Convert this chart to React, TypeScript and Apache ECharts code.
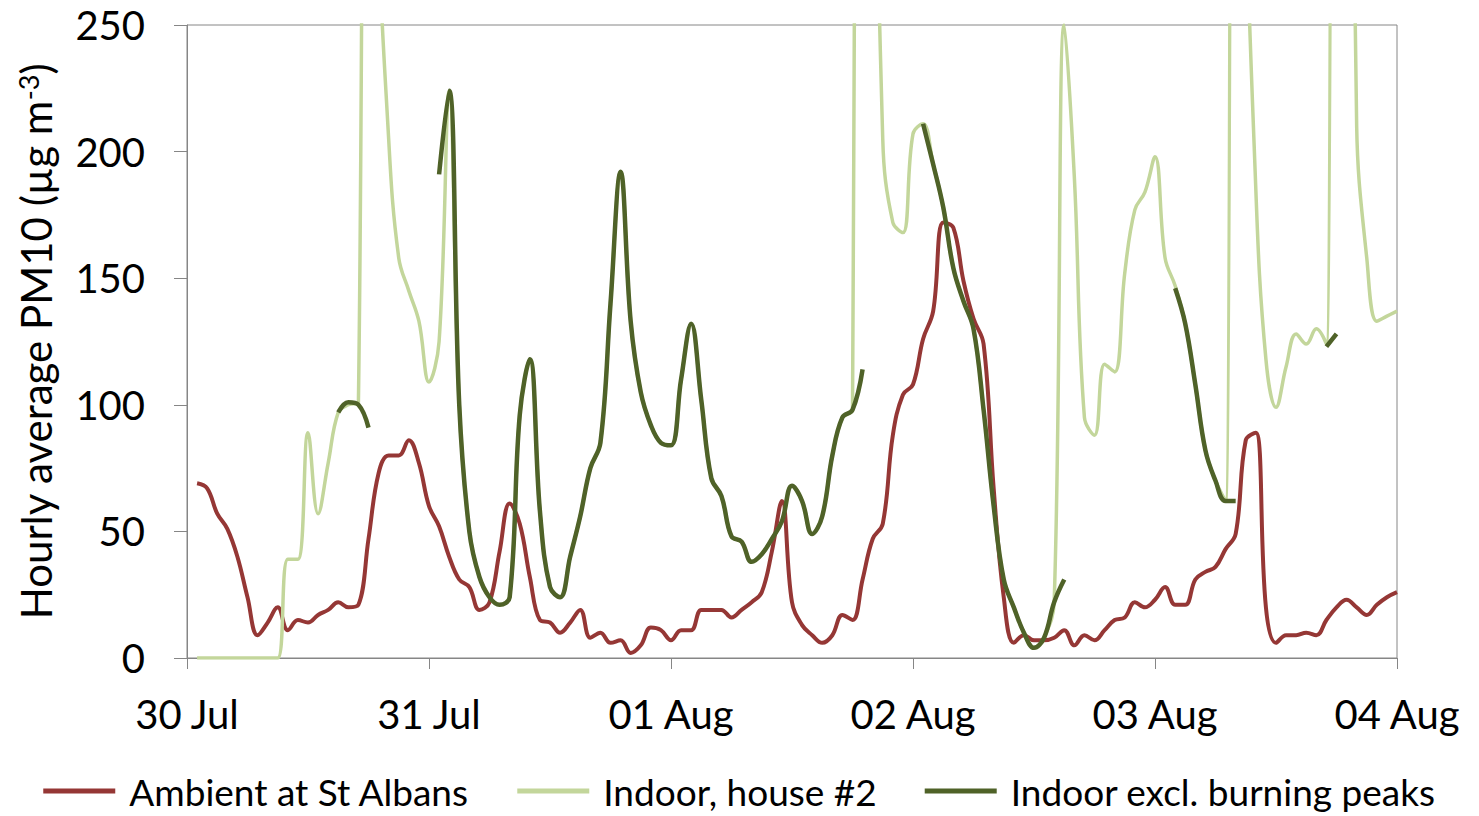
import React, { useEffect, useRef } from "react";
import * as echarts from "echarts";

// Hours after 30 Jul 00:00 (first reading at hour 1)
const dayLabels = ["30 Jul", "31 Jul", "01 Aug", "02 Aug", "03 Aug", "04 Aug"];
const yTicks = [0, 50, 100, 150, 200, 250];

const ambient = [
  69, 67, 57, 51, 40, 24, 9, 14, 20, 11, 15, 14, 17, 19, 22, 20, 21, 47, 73, 80,
  80, 86, 77, 60, 52, 40, 31, 28, 19, 22, 42, 61, 53, 32, 15, 14, 10, 14, 19, 8,
  10, 6, 7, 2, 5, 12, 11, 7, 11, 11, 19, 19, 19, 16, 19, 22, 26, 42, 62, 22,
  13, 9, 6, 9, 17, 15, 31, 47, 53, 88, 104, 108, 126, 137, 172, 170, 149, 134, 124, 67,
  24, 6, 9, 7, 7, 8, 11, 5, 9, 7, 11, 15, 16, 22, 20, 23, 28, 21, 21, 31,
  34, 36, 43, 49, 86, 89, 20, 6, 9, 9, 10, 9, 15, 20, 23, 20, 17, 21, 24, 26,
];

const indoor = [
  0, 0, 0, 0, 0, 0, 0, 0, 0, 39, 39, 89, 57, 77, 97, 100, 101, 1000, 300, 205,
  158, 145, 133, 109, 125, 224, 100, 50, 32, 24, 21, 24, 96, 118, 58, 28, 24, 40, 56, 75,
  85, 140, 192, 133, 105, 92, 85, 84, 110, 132, 102, 71, 64, 48, 46, 38, 41, 47, 54, 68,
  62, 49, 56, 80, 95, 98, 1500, 450, 205, 172, 168, 207, 211, 195, 178, 154, 141, 130, 98, 60,
  31, 20, 10, 4, 8, 22, 250, 190, 95, 88, 116, 113, 152, 177, 184, 198, 158, 147, 132, 108,
  82, 70, 62, 1500, 330, 185, 118, 99, 115, 128, 124, 130, 124, 1500, 600, 210, 158, 133, 135, 137,
];

const N = null;
const indoorExcl = [
  N, N, N, N, N, N, N, N, N, N, N, N, N, N, 97, 101, 100, 91, N, N,
  N, N, N, N, 191, 224, 100, 50, 32, 24, 21, 24, 96, 118, 58, 28, 24, 40, 56, 75,
  85, 140, 192, 133, 105, 92, 85, 84, 110, 132, 102, 71, 64, 48, 46, 38, 41, 47, 54, 68,
  62, 49, 56, 80, 95, 98, 114, N, N, N, N, N, 211, 195, 178, 154, 141, 130, 98, 60,
  31, 20, 10, 4, 8, 22, 31, N, N, N, N, N, N, N, N, N, N, 146, 132, 108,
  82, 70, 62, 62, N, N, N, N, N, N, N, N, 123, 128, N, N, N, N, N, N,
];

const seriesNames = ["Ambient at St Albans", "Indoor, house #2", "Indoor excl. burning peaks"];
const colors = ["#953735", "#C3D69B", "#4F6228"];

const toPairs = (arr: (number | null)[]) =>
  arr.map((v, i) => [i + 1, v == null ? "-" : v]);

const FONT = "Lato";

export default function App() {
  const ref = useRef<HTMLDivElement>(null);
  useEffect(() => {
    if (!ref.current) return;
    const chart = echarts.init(ref.current, undefined, { renderer: "svg" });
    const axisColor = "#868686";
    chart.setOption({
      animation: false,
      backgroundColor: "#ffffff",
      grid: {
        left: 187,
        top: 25,
        width: 1210,
        height: 633,
        show: true,
        borderColor: axisColor,
        borderWidth: 1,
        containLabel: false,
      },
      legend: {
        left: "center",
        top: 767,
        icon: "rect",
        itemWidth: 72,
        itemHeight: 5,
        itemGap: 48,
        textStyle: {
          fontFamily: FONT,
          fontSize: 37,
          color: "#000",
          padding: [0, 0, 0, 9],
          lineHeight: 38,
        },
        data: seriesNames,
      },
      xAxis: {
        type: "value",
        min: 0,
        max: 120,
        interval: 24,
        axisLine: { show: true, lineStyle: { color: axisColor, width: 1 } },
        axisTick: { show: true, length: 11, lineStyle: { color: axisColor } },
        splitLine: { show: false },
        axisLabel: {
          margin: 36,
          fontFamily: FONT,
          fontSize: 40,
          color: "#000",
          formatter: (v: number) => dayLabels[Math.round(v / 24)] ?? "",
        },
      },
      yAxis: {
        type: "value",
        min: yTicks[0],
        max: yTicks[yTicks.length - 1],
        interval: 50,
        axisLine: { show: true, lineStyle: { color: axisColor, width: 1 } },
        axisTick: { show: true, length: 13, lineStyle: { color: axisColor } },
        splitLine: { show: false },
        axisLabel: { margin: 42, fontFamily: FONT, fontSize: 40, color: "#000" },
        name: "{a|Hourly average PM10 (µg m}{s|-3}{a|)}",
        nameLocation: "middle",
        nameGap: 130,
        nameTextStyle: {
          fontFamily: FONT,
          fontSize: 42,
          color: "#000",
          rich: {
            a: { fontFamily: FONT, fontSize: 42, color: "#000" },
            s: { fontFamily: FONT, fontSize: 27, color: "#000", verticalAlign: "top" },
          },
        },
      },
      series: [
        {
          name: seriesNames[0],
          type: "line",
          data: toPairs(ambient),
          smooth: 0.4,
          showSymbol: false,
          color: colors[0],
          lineStyle: { color: colors[0], width: 4 },
        },
        {
          name: seriesNames[1],
          type: "line",
          data: toPairs(indoor),
          smooth: 0.4,
          showSymbol: false,
          color: colors[1],
          lineStyle: { color: colors[1], width: 3.5 },
        },
        {
          name: seriesNames[2],
          type: "line",
          data: toPairs(indoorExcl),
          smooth: 0.4,
          showSymbol: false,
          connectNulls: false,
          color: colors[2],
          lineStyle: { color: colors[2], width: 4.5 },
        },
      ],
    });
    return () => chart.dispose();
  }, []);
  return (
    <div
      ref={ref}
      style={{ position: "absolute", left: 0, top: 0, width: 1479, height: 816 }}
    />
  );
}
